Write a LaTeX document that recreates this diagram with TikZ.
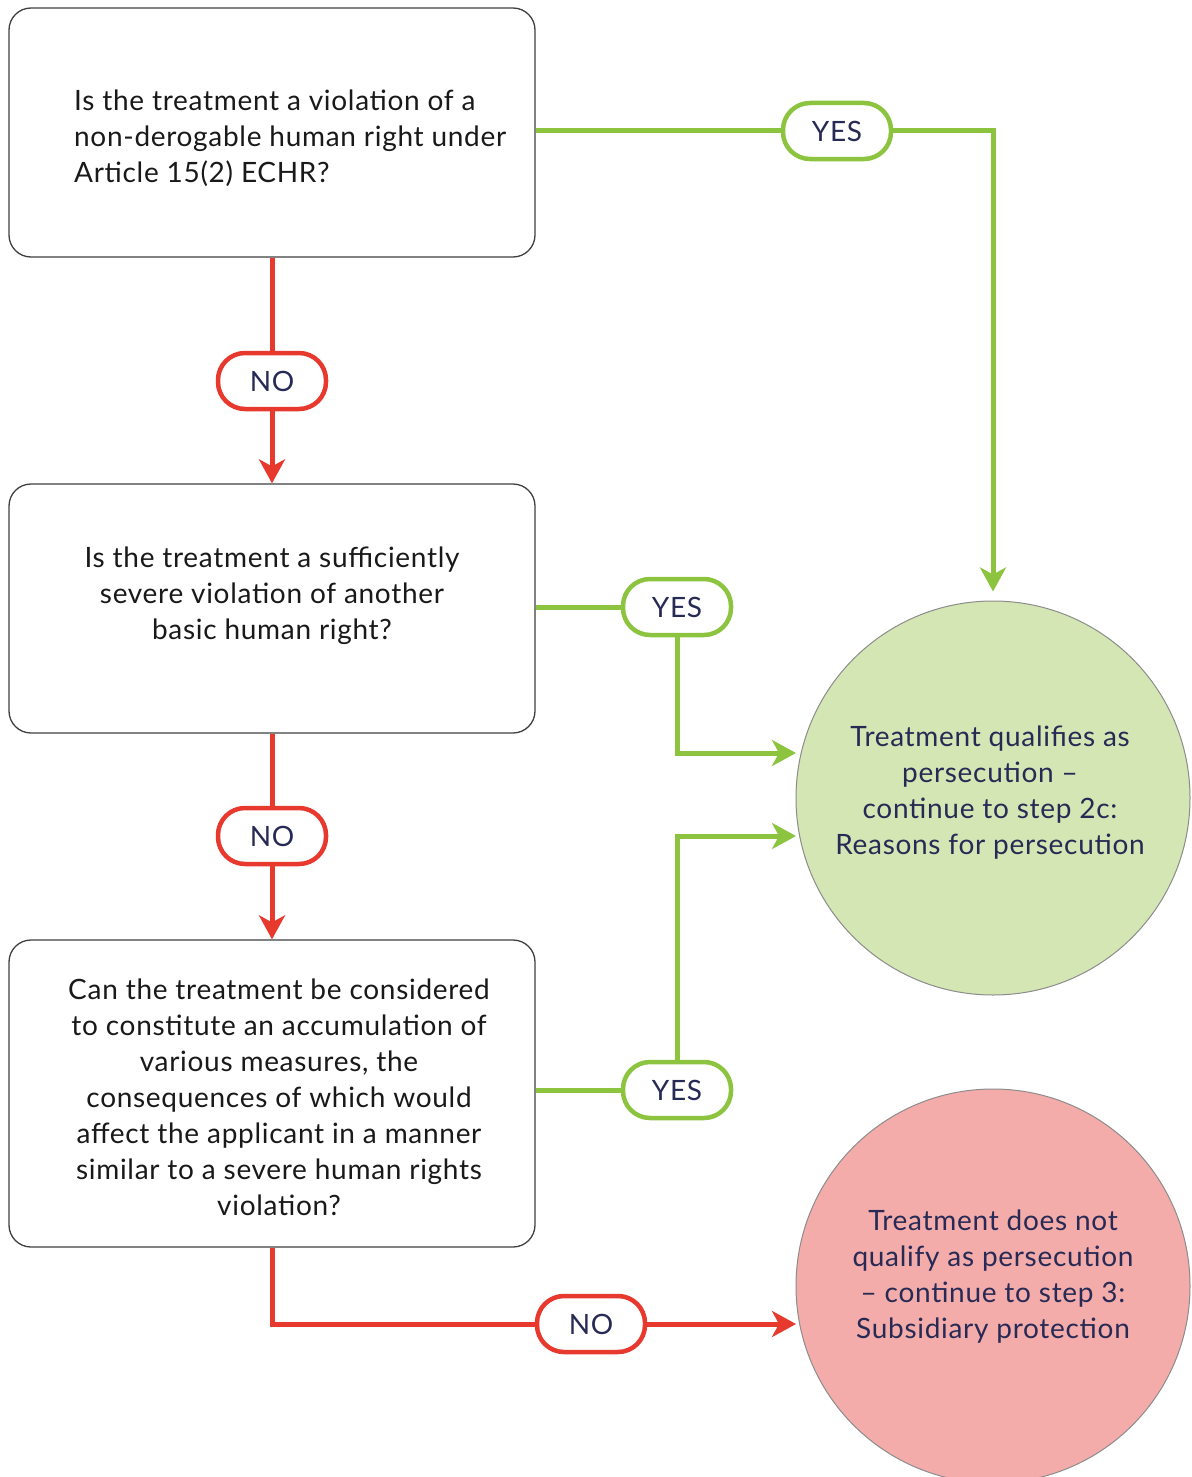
\documentclass[tikz,border=0pt]{standalone}
\usepackage{fontspec}
\setmainfont[LetterSpace=2.5]{Lato}
\usetikzlibrary{arrows.meta}
\definecolor{yesgreen}{HTML}{8CC43F}
\definecolor{nored}{HTML}{E8392E}
\definecolor{navy}{HTML}{272A55}
\definecolor{okfill}{HTML}{D3E6B3}
\definecolor{nofill}{HTML}{F3ACAA}
\begin{document}
\begin{tikzpicture}[x=1pt,y=-1pt,
  qbox/.style={draw=black!75, line width=1.3pt, rounded corners=22pt, fill=white,
    minimum width=526pt, minimum height=249pt, inner sep=0pt},
  qtext/.style={font=\fontsize{28}{36}\selectfont, text=black!90, align=center, inner sep=0pt},
  pill/.style={draw, line width=4.5pt, fill=white, rounded corners=27pt,
    minimum width=108pt, minimum height=56pt, inner sep=0pt, text=navy,
    font=\fontsize{28}{30}\selectfont},
  yespill/.style={pill, draw=yesgreen},
  nopill/.style={pill, draw=nored},
  result/.style={circle, draw=black!45, line width=1pt, minimum size=394pt, inner sep=0pt},
  rtext/.style={font=\fontsize{28}{36}\selectfont, text=navy, align=center, inner sep=0pt},
  gline/.style={draw=yesgreen, line width=5pt},
  rline/.style={draw=nored, line width=5pt},
  tip/.style={-{Stealth[length=24pt,width=26pt,inset=7pt]}},
]
\useasboundingbox (0,0) rectangle (1191,1477);

% question boxes
\node[qbox] (q1) at (272,132.5) {};
\node[qbox] (q2) at (272,608.5) {};
\node[qbox, minimum height=307pt] (q3) at (272,1093.5) {};

\node[qtext, align=left, anchor=west] (t1) at (74,138)
  {Is the treatment a violation of a\\non-derogable human right under\\Article 15(2) ECHR?};
\node[qtext] (t2) at (272,596)
  {Is the treatment a sufficiently\\severe violation of another\\basic human right?};
\node[qtext] (t3) at (279,1097)
  {Can the treatment be considered\\to constitute an accumulation of\\various measures, the\\consequences of which would\\affect the applicant in a manner\\similar to a severe human rights\\violation?};

% outcomes
\node[result, fill=okfill] (ok) at (993,798) {};
\node[rtext] (okt) at (990,793)
  {Treatment qualifies as\\persecution --\\continue to step 2c:\\Reasons for persecution};
\node[result, fill=nofill] (bad) at (993,1286) {};
\node[rtext] (badt) at (993,1277)
  {Treatment does not\\qualify as persecution\\-- continue to step 3:\\Subsidiary protection};

\coordinate (ok-a) at (796,753);
\coordinate (ok-b) at (796,836);
\coordinate (bad-a) at (796,1324);

% answer labels
\node[yespill] (y1) at (837,131) {YES};
\node[yespill] (y2) at (677,607) {YES};
\node[yespill] (y3) at (677,1090) {YES};
\node[nopill] (n1) at (272,381) {NO};
\node[nopill] (n2) at (272,836) {NO};
\node[nopill] (n3) at (591,1324) {NO};

% yes connectors
\draw[gline] (q1.east |- y1.west) -- (y1.west);
\draw[gline, tip, shorten >=9pt] (y1.east) -| (ok.north);
\draw[gline] (q2.east |- y2.west) -- (y2.west);
\draw[gline, tip] (y2.south) |- (ok-a);
\draw[gline] (q3.east |- y3.west) -- (y3.west);
\draw[gline, tip] (y3.north) |- (ok-b);

% no connectors
\draw[rline] (q1.south) -- (n1.north);
\draw[rline, tip] (n1.south) -- (q2.north);
\draw[rline] (q2.south) -- (n2.north);
\draw[rline, tip] (n2.south) -- (q3.north);
\draw[rline] (q3.south) |- (n3.west);
\draw[rline, tip] (n3.east) -- (bad-a);
\end{tikzpicture}
\end{document}
